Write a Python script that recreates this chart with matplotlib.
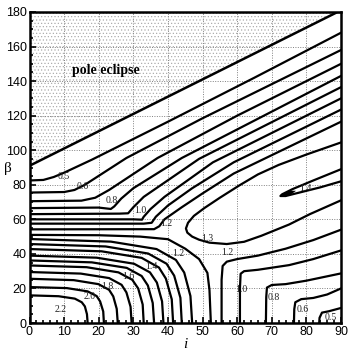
import matplotlib
matplotlib.use("Agg")
import matplotlib.pyplot as plt
from matplotlib.ticker import MultipleLocator

plt.rcParams['hatch.color'] = '#a8a8a8'
plt.rcParams['hatch.linewidth'] = 0.45

# pole eclipse boundary (i, beta)
bound_i = [0, 89, 90]
bound_b = [91, 180, 180]

# upper family: left edge -> bend -> diagonal (levels 0.5 .. 1.2)
upper = [
    ([0, 4, 7, 10, 18, 40, 65, 90], [82.5, 82.8, 84.5, 87, 94.5, 116.5, 142, 168]),
    ([0, 10, 13, 16, 28, 50, 90], [75.5, 75.8, 77, 80, 95.5, 118.5, 158]),
    ([0, 15, 19, 23, 37, 60, 90], [70.5, 70.8, 72.5, 77, 95.5, 120, 150]),
    ([0, 20, 23.5, 24.5, 26.5, 30, 44, 90], [66.5, 66.8, 66, 67.5, 72, 78, 95.5, 143]),
    ([0, 26, 28.5, 30, 33, 49, 90], [63, 63.3, 63.5, 67, 73, 95, 136.5]),
    ([0, 30, 32.5, 33, 35, 39, 53, 90], [60, 60, 59.8, 61.5, 66, 73, 93, 130]),
    ([0, 33, 35.3, 36.5, 40, 47, 59, 90], [57.5, 57.5, 58, 61.5, 68, 78, 93, 123.5]),
    ([0, 36, 37.5, 39, 44, 50, 59, 90], [54.2, 54.3, 56, 60, 67, 75, 86.5, 116.5]),
]

# lower-left family: left edge -> bottom edge (levels 1.3 .. 2.2)
lower_left = [
    ([0, 8.4, 13.1, 15.1, 16, 16.6, 16.8], [16, 15.5, 14.1, 12, 9.6, 5.1, 0]),
    ([0, 10.8, 16.8, 19.4, 20.4, 21.3, 21.5], [20.8, 20.2, 18.3, 15.6, 12.5, 6.7, 0]),
    ([0, 12.8, 19.9, 23, 24.2, 25.2, 25.5], [25.6, 24.8, 22.5, 19.2, 15.4, 8.2, 0]),
    ([0, 14.8, 23, 26.6, 28, 29.2, 29.5], [29.5, 28.6, 26, 22.1, 17.7, 9.4, 0]),
    ([0, 16.5, 25.7, 29.7, 31.4, 32.7, 33], [33.3, 32.3, 29.3, 25, 20, 10.7, 0]),
    ([0, 18, 28.1, 32.4, 34.2, 35.6, 36], [36.2, 35.1, 31.9, 27.2, 21.7, 11.6, 0]),
    ([0, 19.4, 30.2, 34.8, 36.8, 38.3, 38.7], [39, 37.8, 34.3, 29.3, 23.4, 12.5, 0]),
    ([0, 20.8, 32.4, 37.4, 39.4, 41.1, 41.5], [42.8, 41.5, 37.7, 32.1, 25.7, 13.7, 0]),
    ([0, 22, 34.3, 39.6, 41.8, 43.6, 44], [45.7, 44.3, 40.2, 34.3, 27.4, 14.6, 0]),
    ([0, 23.5, 36.7, 42.3, 44.7, 46.5, 47], [48.6, 47.1, 42.8, 36.5, 29.2, 15.6, 0]),
    ([0, 20, 32, 40, 45, 49, 51.4, 52, 52.4], [51, 50.8, 50, 48.5, 43, 37, 29, 19, 0]),
]

# lower-right family: bottom edge -> right edge (levels 1.2, 1.0, 0.8, 0.6, 0.5)
lower_right = [
    ([55.5, 55.5, 55.8, 57, 60, 66, 74, 82, 90], [0, 25, 33, 35.5, 37, 39, 43, 48, 54]),
    ([60.8, 60.8, 61, 62, 66, 75, 82, 90], [0, 20, 28.5, 30, 30.8, 33.5, 37, 42]),
    ([68.3, 68.4, 68.6, 70, 74, 80, 90], [0, 15, 20.5, 22, 22.5, 24.5, 28.7]),
    ([76.4, 76.5, 76.8, 78.5, 82, 86, 90], [0, 8, 12, 13.8, 14.5, 16.5, 20]),
    ([83.7, 83.8, 84.5, 86.5, 90], [0, 3, 6, 6.8, 8.7]),
]

# ridge contours 1.3 (open loop) and 1.4 (wedge)
ridge13_i = [90, 80, 72, 66, 60.6, 55, 50.5, 47.5, 45.8, 45.2, 45.6, 47, 49, 52, 57, 62, 67, 75, 81, 90]
ridge13_b = [104.5, 97.5, 91.5, 86, 79.6, 72.5, 66.5, 62, 58, 54.7, 52.3, 50, 48.2, 46.5, 45.7, 47, 50.5, 57, 63, 71]
ridge14_i = [90, 82, 76, 73, 72.5, 74, 78, 84, 90]
ridge14_b = [89, 82.5, 77.5, 74.5, 73.5, 73.5, 75.5, 78.5, 82]
tip14_i = [72.3, 75, 77, 75.5, 73.5]
tip14_b = [73.6, 76.6, 76.5, 74.3, 73.0]

# contour labels
lab_text = ['0.5', '0.6', '0.8', '1.0', '1.2', '1.3', '1.2', '1.4', '1.2', '1.4',
            '1.6', '1.8', '2.0', '2.2', '1.0', '0.8', '0.6', '0.5']
lab_i = [10, 15.4, 23.8, 31.9, 39.6, 51.5, 57.2, 79.8, 42.9, 35.1,
         28.4, 22.6, 17.3, 9.1, 61.3, 70.6, 79, 87]
lab_b = [85, 78.8, 71, 65.3, 57.8, 48.7, 40.8, 78, 40.1, 32.8,
         27, 21.2, 15.4, 7.7, 19.3, 14.7, 8, 3]

fig = plt.figure(figsize=(3.52, 3.54), dpi=100)
ax = fig.add_axes([29.5 / 352, 31 / 354, 311.5 / 352, 311 / 354])

ax.fill_between(bound_i, bound_b, 180, facecolor='white', edgecolor='#a8a8a8',
                hatch='.....', linewidth=0, zorder=0)

ax.grid(True, which='major', linestyle=(0, (1, 1.5)), color='#808080', linewidth=0.7)
ax.set_axisbelow(True)

lw = 1.6
ax.plot(bound_i, bound_b, color='black', lw=lw + 0.2)
for xs, ys in upper + lower_left + lower_right:
    ax.plot(xs, ys, color='black', lw=lw, solid_joinstyle='round')
ax.plot(ridge13_i, ridge13_b, color='black', lw=lw, solid_joinstyle='round')
ax.plot(ridge14_i, ridge14_b, color='black', lw=lw)
ax.fill(tip14_i, tip14_b, color='black', lw=0)

for t, x, y in zip(lab_text, lab_i, lab_b):
    ax.text(x, y, t, fontsize=7, family='Liberation Serif', ha='center', va='center',
            color='#222222')

ax.text(22, 146, 'pole eclipse', fontsize=10, family='Liberation Serif',
        fontweight='bold', ha='center', va='center')

ax.set_xlim(0, 90)
ax.set_ylim(0, 180)
ax.xaxis.set_major_locator(MultipleLocator(10))
ax.xaxis.set_minor_locator(MultipleLocator(2))
ax.yaxis.set_major_locator(MultipleLocator(20))
ax.yaxis.set_minor_locator(MultipleLocator(5))
ax.tick_params(which='both', direction='in', top=False, right=False, width=1.2)
ax.tick_params(which='major', length=4, labelsize=9, pad=2)
ax.tick_params(which='minor', length=2)
for lbl in ax.get_xticklabels() + ax.get_yticklabels():
    lbl.set_family('Liberation Sans')
for s in ax.spines.values():
    s.set_linewidth(1.8)

ax.set_xlabel('i', fontsize=11, family='Liberation Serif', style='italic', labelpad=0)
fig.text(8 / 352, 1 - 168 / 354, 'β', fontsize=11, family='Liberation Serif',
         ha='center', va='center')

fig.savefig('out.png', dpi=100)
